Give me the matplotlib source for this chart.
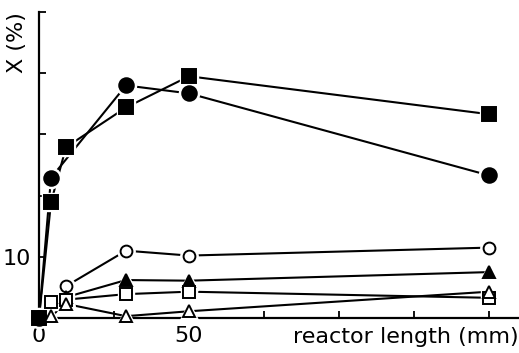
import matplotlib
matplotlib.use("Agg")
import matplotlib.pyplot as plt

# reactor length (mm) and conversion X (%) for each series
x_filled_sq = [0, 4, 9, 29, 50, 150]
y_filled_sq = [0.0, 18.9, 27.9, 34.4, 39.5, 33.3]

x_filled_circ = [0, 4, 29, 50, 150]
y_filled_circ = [0.0, 22.9, 38.0, 36.7, 23.3]

x_open_circ = [9, 29, 50, 150]
y_open_circ = [5.2, 11.0, 10.2, 11.5]

x_filled_tri = [9, 29, 50, 150]
y_filled_tri = [3.4, 6.2, 6.1, 7.5]

x_open_sq = [4, 9, 29, 50, 150]
y_open_sq = [2.6, 3.0, 3.9, 4.3, 3.3]

x_open_tri = [4, 9, 29, 50, 150]
y_open_tri = [0.3, 2.3, 0.3, 1.1, 4.3]

x_ticks = [0, 25, 50, 75, 100, 125, 150]
x_ticklabels = ["0", "", "50", "", "", "", ""]
y_ticks = [0, 10, 20, 30, 40, 50]
y_ticklabels = ["", "10", "", "", "", ""]

plt.rcParams['font.family'] = ['DejaVu Sans']

fig = plt.figure(figsize=(5.19, 3.53), dpi=100)
W, H = 519, 353
ax = fig.add_axes([39 / W, (H - 318) / H, (519 - 39) / W, (318 - 12) / H])

series = [
    (x_filled_sq, y_filled_sq, 's', 'black', 9.5),
    (x_filled_circ, y_filled_circ, 'o', 'black', 10.5),
    (x_open_circ, y_open_circ, 'o', 'white', 8.5),
    (x_filled_tri, y_filled_tri, '^', 'black', 9),
    (x_open_sq, y_open_sq, 's', 'white', 8),
    (x_open_tri, y_open_tri, '^', 'white', 8.5),
]

for xs, ys, m, fc, ms in series:
    ax.plot(xs, ys, color='black', lw=1.5, zorder=2, clip_on=False)
for xs, ys, m, fc, ms in series:
    # white halo keeps connecting lines from touching the symbols
    ax.plot(xs, ys, linestyle='none', marker=m, ms=ms + 4, mfc='white',
            mec='white', zorder=3, clip_on=False)
for xs, ys, m, fc, ms in series:
    ax.plot(xs, ys, linestyle='none', marker=m, ms=ms, mfc=fc,
            mec='black', mew=1.4, zorder=4, clip_on=False)

ax.set_xlim(0, 160)
ax.set_ylim(0, 50)
ax.spines['top'].set_visible(False)
ax.spines['right'].set_visible(False)
ax.spines['left'].set_linewidth(1.6)
ax.spines['bottom'].set_linewidth(1.6)

ax.set_xticks(x_ticks)
ax.set_xticklabels(x_ticklabels, fontsize=16)
ax.set_yticks(y_ticks)
ax.set_yticklabels(y_ticklabels, fontsize=16)
ax.tick_params(direction='in', length=5, width=1.3)
ax.tick_params(axis='x', pad=6)
ax.tick_params(axis='y', pad=6)

ax.text(1.0, -0.03, "reactor length (mm)", transform=ax.transAxes,
        ha='right', va='top', fontsize=16)
ax.text(-0.045, 1.0, "X (%)", transform=ax.transAxes, rotation=90,
        ha='center', va='top', fontsize=16)

fig.savefig("out.png", dpi=100)
